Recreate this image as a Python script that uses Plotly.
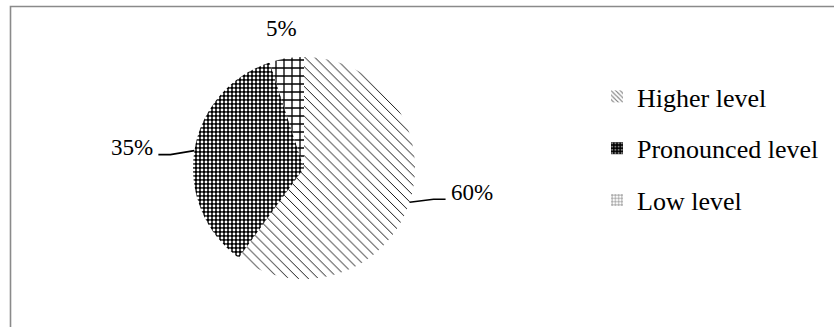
import math
import plotly.graph_objects as go

# Survey result shares
categories = ["Higher level", "Pronounced level", "Low level"]
shares = [60, 35, 5]
share_labels = ["60%", "35%", "5%"]

W, H = 834, 327
CX, CY, R = 304, 168, 111          # pie centre and radius (px)
FONT = "Liberation Serif, Times New Roman, serif"

# Black-and-white fill textures, one per category
pat_shape = ["\\", ".", "+"]
pat_fg = ["black", "white", "black"]
pat_bg = ["white", "black", "white"]
pat_size = [7, 4, 8]
pat_solid = [0.13, 0.4, 0.3]

# Leader-line elbows relative to the slice edge (px); None = label without line
elbows = [(24, -3), (-24, 4), None]


def paper(x, y):
    return x / W, 1 - y / H


fig = go.Figure()
fig.add_trace(go.Pie(
    labels=categories, values=shares, sort=False,
    direction="clockwise", rotation=0,
    textinfo="none", hoverinfo="label+percent", showlegend=False,
    marker=dict(
        colors=pat_bg,
        line=dict(width=0),
        pattern=dict(shape=pat_shape, fgcolor=pat_fg, bgcolor=pat_bg,
                     size=pat_size, solidity=pat_solid, fillmode="replace"),
    ),
    domain=dict(x=[(CX - R) / W, (CX + R) / W],
                y=[1 - (CY + R) / H, 1 - (CY - R) / H]),
))

# Legend entries carrying the same textures
for i, cat in enumerate(categories):
    fig.add_trace(go.Bar(
        x=[None], y=[None], name=cat, legendgroup=cat,
        marker=dict(color=pat_bg[i], line=dict(width=0),
                    pattern=dict(shape=pat_shape[i], fgcolor=pat_fg[i],
                                 bgcolor=pat_bg[i], size=4, solidity=0.35)),
        hoverinfo="skip",
    ))

# Percentage labels placed around the pie from the slice mid-angles
total = sum(shares)
cum = 0.0
annotations = []
shapes = []
for val, lab, elb in zip(shares, share_labels, elbows):
    mid = (cum + val / 2) / total * 2 * math.pi
    cum += val
    sx, sy = math.sin(mid), -math.cos(mid)
    if elb is None:
        tx, ty = CX + (R + 30) * sx, CY + (R + 30) * sy
        x, y = paper(tx, ty)
        annotations.append(dict(x=x, y=y, xref="paper", yref="paper", text=lab,
                                showarrow=False, xanchor="center", yanchor="middle",
                                font=dict(family=FONT, size=23, color="black")))
        continue
    ex, ey = CX + R * sx, CY + R * sy
    kx, ky = ex + elb[0], ey + elb[1]
    side = 1 if elb[0] > 0 else -1
    hx = kx + side * 12
    pts = [paper(ex, ey), paper(kx, ky), paper(hx, ky)]
    path = "M " + " L ".join(f"{p[0]:.5f},{p[1]:.5f}" for p in pts)
    shapes.append(dict(type="path", path=path, xref="paper", yref="paper",
                       line=dict(color="black", width=1.6)))
    x, y = paper(hx + side * 3, ky - 7)
    annotations.append(dict(x=x, y=y, xref="paper", yref="paper", text=lab,
                            showarrow=False, xanchor="left" if side > 0 else "right",
                            yanchor="middle",
                            font=dict(family=FONT, size=23, color="black")))

# Chart-area frame
fx, fy = paper(10.5, 6.5)
shapes.append(dict(type="path", xref="paper", yref="paper",
                   path=f"M {fx:.5f},-0.1 L {fx:.5f},{fy:.5f} L 1.1,{fy:.5f}",
                   line=dict(color="#8a8a8a", width=1.6)))

lx, ly = paper(597, 73)
fig.update_layout(
    width=W, height=H,
    margin=dict(l=0, r=0, t=0, b=0),
    paper_bgcolor="white", plot_bgcolor="white",
    font=dict(family=FONT, color="black"),
    xaxis=dict(visible=False), yaxis=dict(visible=False),
    legend=dict(x=lx, y=ly, xanchor="left", yanchor="top",
                font=dict(family=FONT, size=26, color="black"),
                tracegroupgap=15, bgcolor="rgba(0,0,0,0)"),
    annotations=annotations,
    shapes=shapes,
)

fig.write_html("out.html")
